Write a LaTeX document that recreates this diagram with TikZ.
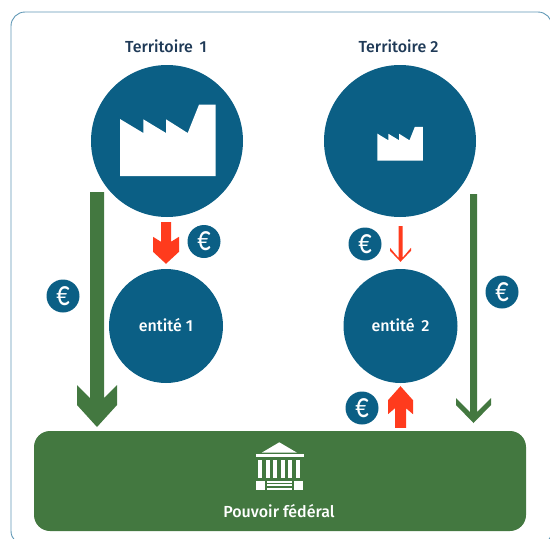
\documentclass[tikz,border=0pt]{standalone}
\usepackage{fontspec}
\setmainfont{Fira Sans}[UprightFont=* Medium]
\newfontfamily\eurofont{Carlito}
\usetikzlibrary{positioning,calc}
\definecolor{bleu}{HTML}{0B5F85}
\definecolor{vert}{HTML}{437840}
\definecolor{rouge}{HTML}{FF3B1D}
\definecolor{cadre}{HTML}{5F97B5}
\definecolor{titre}{HTML}{1F3A57}
\newcommand{\monnaie}{\scalebox{.85}[1.15]{€}}
\tikzset{
  disque/.style={circle,fill=bleu,inner sep=0pt,minimum size=#1},
  euro/.style={disque=33pt,text=white,font=\eurofont\fontsize{31}{31}\selectfont},
  titreterr/.style={text=titre,font=\fontsize{16}{16}\selectfont},
  etiq/.style={text=white,font=\fontsize{16}{16}\selectfont},
  % demi-fut, demi-largeur, haut des ailes, bas des ailes, jonction, sens
  fleche/.style n args={6}{to path={
    ($(\tikztostart)+(-#1,0)$) -- ($(\tikztotarget)+(-#1,-#6*#5)$)
    -- ($(\tikztotarget)+(-#2,-#6*#3)$) -- ($(\tikztotarget)+(-#2,-#6*#4)$)
    -- (\tikztotarget)
    -- ($(\tikztotarget)+(#2,-#6*#4)$) -- ($(\tikztotarget)+(#2,-#6*#3)$)
    -- ($(\tikztotarget)+(#1,-#6*#5)$) -- ($(\tikztostart)+(#1,0)$) -- cycle}},
  usine/.pic={
    \fill[white] (0,0) -- (0,-57) -- (23.3,-43) -- (23.3,-56.7) -- (46,-43)
      -- (46,-56.7) -- (67.7,-43) -- (79,-71.3) -- (95.7,-71.3) -- (95.7,0) -- cycle;
  }
}
\begin{document}
\begin{tikzpicture}[x=1pt,y=-1pt]
  \useasboundingbox (0,0) rectangle (550,539);
  \clip (0,0) rectangle (550,539);
  \draw[cadre,line width=.9pt,rounded corners=14pt] (11,12) rectangle (552,545);

  \node[disque=152pt] (terr1) at (167,141) {};
  \node[disque=152pt] (terr2) at (400,141) {};
  \node[disque=114pt,etiq] (ent1) at (166,326) {\raisebox{2pt}{entité 1}};
  \node[disque=114pt,etiq] (ent2) at (400.5,326) {\raisebox{2pt}{entité\, 2}};
  \node[titreterr] (nom1) at (166,46) {Territoire\, 1};
  \node[titreterr] (nom2) at (398.5,46) {Territoire 2};

  \node[draw=none,fill=vert,rounded corners=16pt,minimum width=492pt,minimum height=100pt,inner sep=0pt] (fed) at (280,481) {};
  \node[etiq] (pouvoir) at (279,511) {Pouvoir fédéral};

  \pic at (120,176) {usine};
  \pic[scale=.475] at (377.3,160.7) {usine};

  % banque
  \fill[white] (279.3,442.3) -- (297,452.7) -- (261.7,452.7) -- cycle;
  \fill[white] (255.5,454) rectangle (303.5,456.7);
  \foreach \x in {258.3,265.6,273.1,280.5,288.1,296}
    \fill[white] (\x,460) rectangle ++(4,18);
  \fill[white] (255.7,480.7) rectangle (265,490);
  \fill[white] (293.7,480.7) rectangle (303,490);
  \foreach \y in {480.7,484.4,488}
    \fill[white] (267,\y) rectangle (292,\y+2);

  \node[euro] (eur1) at (204,241.5) {\monnaie};
  \node[euro] (eur2) at (365,244) {\monnaie};
  \node[euro] (eur3) at (63,296) {\monnaie};
  \node[euro] (eur4) at (502,292) {\monnaie};
  \node[euro] (eur5) at (362,408) {\monnaie};

  \coordinate (v1a) at (97,192);
  \coordinate (v1b) at (97,427);
  \coordinate (v2a) at (473.5,194);
  \coordinate (v2b) at (473.5,423);
  \coordinate (r1b) at ($(ent1.north)+(0,-5)$);
  \coordinate (r1a) at (r1b |- 0,222);
  \coordinate (r2b) at ($(ent2.north)+(0,-7)$);
  \coordinate (r2a) at (r2b |- 0,226);
  \coordinate (r3a) at ($(fed.north -| ent2)+(0,-3)$);
  \coordinate (r3b) at ($(ent2.south)+(0,3)$);

  \path[fill=vert,fleche={7}{20}{42}{22}{29}{1}] (v1a) to (v1b);
  \path[fill=vert,fleche={3.5}{17.5}{25}{18}{11}{1}] (v2a) to (v2b);
  \path[fill=rouge,fleche={5}{13}{27}{12}{22}{1}] (r1a) to (r1b);
  \path[fill=rouge,fleche={2}{10.5}{14}{11}{4}{1}] (r2a) to (r2b);
  \path[fill=rouge,fleche={5.5}{12.5}{28}{14}{22}{-1}] (r3a) to (r3b);
\end{tikzpicture}
\end{document}
